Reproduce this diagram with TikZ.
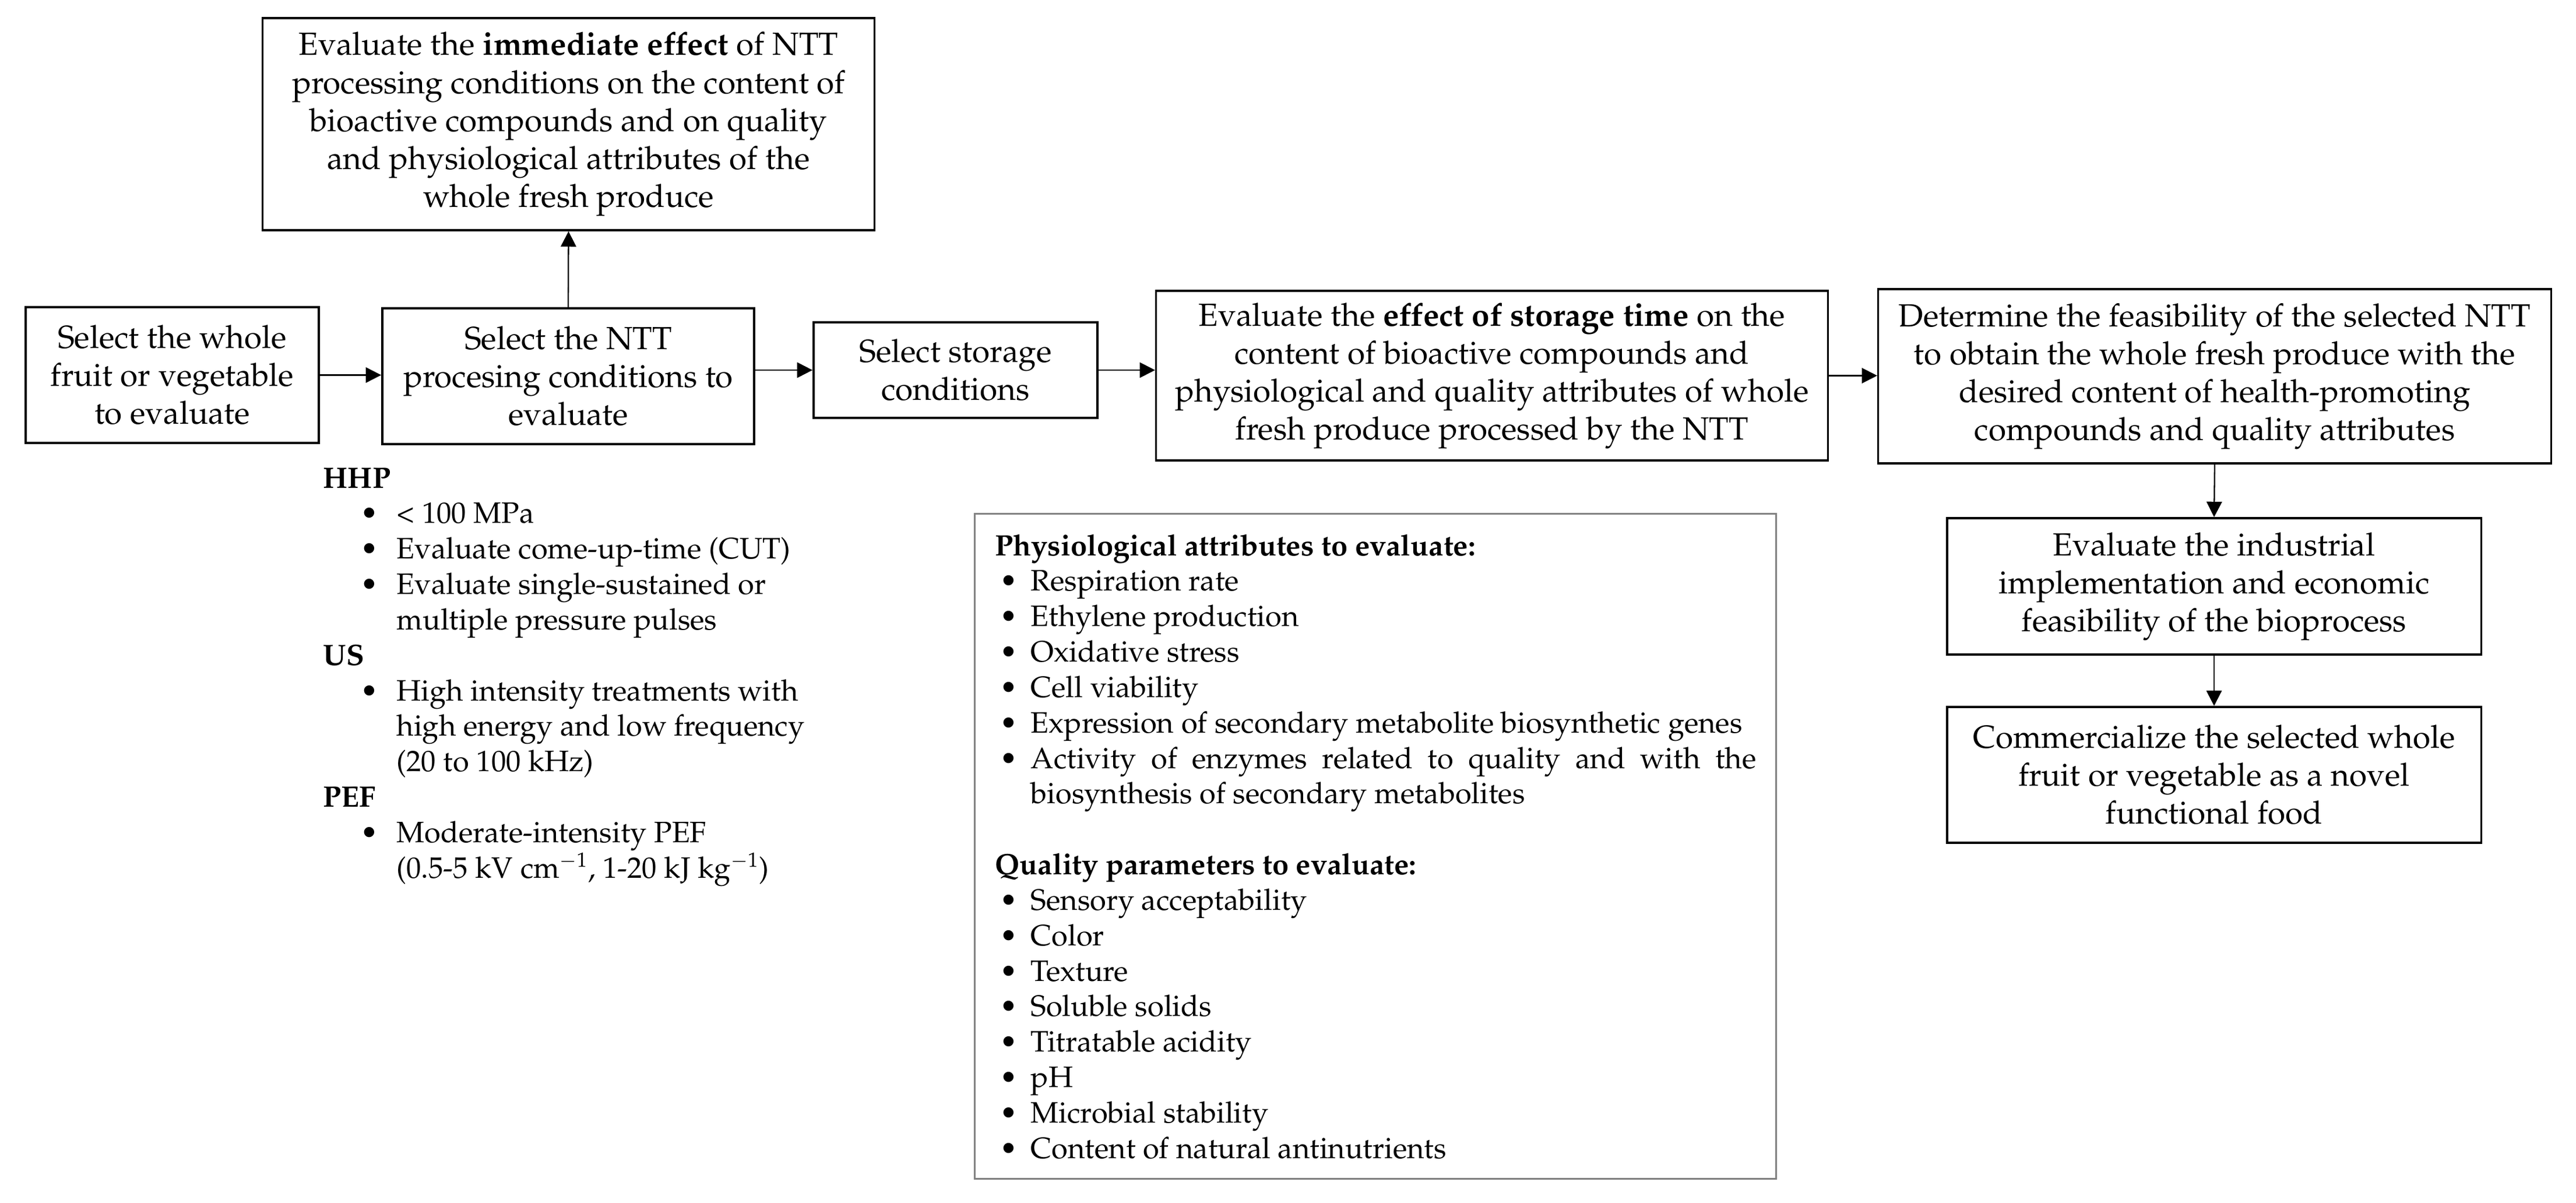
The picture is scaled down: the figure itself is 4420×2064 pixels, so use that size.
\documentclass[tikz,border=0pt]{standalone}
\usepackage[T1]{fontenc}
\usepackage{mathpazo}
\usetikzlibrary{arrows.meta}
\newcommand\boxfont{\fontsize{15.6}{18.5}\selectfont}
\newcommand\listfont{\fontsize{14.4}{17.3}\selectfont}
\newcommand\bitem{\hspace*{0.64cm}\makebox[0.62cm][l]{\textbullet}}
\newcommand\bcont{\hspace*{1.26cm}}
\newcommand\pitem{\hspace*{0.08cm}\makebox[0.53cm][l]{\textbullet}}
\newcommand\pcont{\hspace*{0.61cm}}
\tikzset{
  flow/.style={draw=black, line width=1pt, inner sep=0pt, align=center, font=\boxfont},
  conn/.style={draw=black, line width=0.65pt, -{Triangle[length=7.5pt,width=7.5pt]}},
  listtext/.style={inner sep=0pt, anchor=base west, font=\listfont},
}
\begin{document}
\begin{tikzpicture}[x=0.01cm, y=-0.01cm]
\useasboundingbox (0,0) rectangle (4420,2064);

\node[flow, minimum width=10.49cm, minimum height=3.64cm] (top) at (975.5,213)
  {Evaluate the \textbf{immediate effect} of NTT\\processing conditions on the content of\\bioactive compounds and on quality\\and physiological attributes of the\\whole fresh produce};
\node[flow, minimum width=5.03cm, minimum height=2.33cm] (b1) at (295.5,643.5)
  {Select the whole\\fruit or vegetable\\to evaluate};
\node[flow, minimum width=6.38cm, minimum height=2.33cm] (b2) at (975,645.5)
  {Select the NTT\\procesing conditions to\\evaluate};
\node[flow, minimum width=4.87cm, minimum height=1.64cm] (b3) at (1639.5,635)
  {Select storage\\conditions};
\node[flow, minimum width=11.52cm, minimum height=2.91cm] (b4) at (2560,644.5)
  {Evaluate the \textbf{effect of storage time} on the\\content of bioactive compounds and\\physiological and quality attributes of whole\\fresh produce processed by the NTT};
\node[flow, minimum width=11.54cm, minimum height=2.99cm] (b5) at (3800,645.5)
  {Determine the feasibility of the selected NTT\\to obtain the whole fresh produce with the\\desired content of health-promoting\\compounds and quality attributes};
\node[flow, minimum width=9.16cm, minimum height=2.34cm] (b6) at (3799,1006)
  {Evaluate the industrial\\implementation and economic\\feasibility of the bioprocess};
\node[flow, minimum width=9.16cm, minimum height=2.33cm] (b7) at (3799,1329.5)
  {Commercialize the selected whole\\fruit or vegetable as a novel\\functional food};

\draw[conn] (b2.north) -- (top.south);
\draw[conn] (b1.east) -- (b1.east -| b2.west);
\draw[conn] (b2.east |- b3.west) -- (b3.west);
\draw[conn] (b3.east) -- (b3.east -| b4.west);
\draw[conn] (b4.east) -- (b4.east -| b5.west);
\draw[conn] (b5.south) -- (b6.north);
\draw[conn] (b6.south) -- (b7.north);

\node[listtext] (ntt) at (554,837) {\begin{minipage}[t]{9cm}\listfont\raggedright
\textbf{HHP}\\
\bitem\textless\ 100 MPa\\
\bitem Evaluate come-up-time (CUT)\\
\bitem Evaluate single-sustained or\\
\bcont multiple pressure pulses\\
\textbf{US}\\
\bitem High intensity treatments with\\
\bcont high energy and low frequency\\
\bcont (20 to 100 kHz)\\
\textbf{PEF}\\
\bitem Moderate-intensity PEF\\
\bcont (0.5-5 kV cm$^{-1}$, 1-20 kJ kg$^{-1}$)
\end{minipage}};

\node[draw=black!50, line width=1pt, minimum width=13.74cm, minimum height=11.40cm, inner sep=0pt] (phys) at (2360,1452) {};
\node[listtext] (physlist) at (1707,953) {\begin{minipage}[t]{13.2cm}\listfont\raggedright
\textbf{Physiological attributes to evaluate:}\\
\pitem Respiration rate\\
\pitem Ethylene production\\
\pitem Oxidative stress\\
\pitem Cell viability\\
\pitem Expression of secondary metabolite biosynthetic genes\\
\pitem\makebox[12.44cm][s]{Activity of enzymes related to quality and with the}\\
\pcont biosynthesis of secondary metabolites\\[17.3pt]
\textbf{Quality parameters to evaluate:}\\
\pitem Sensory acceptability\\
\pitem Color\\
\pitem Texture\\
\pitem Soluble solids\\
\pitem Titratable acidity\\
\pitem pH\\
\pitem Microbial stability\\
\pitem Content of natural antinutrients
\end{minipage}};
\end{tikzpicture}
\end{document}
